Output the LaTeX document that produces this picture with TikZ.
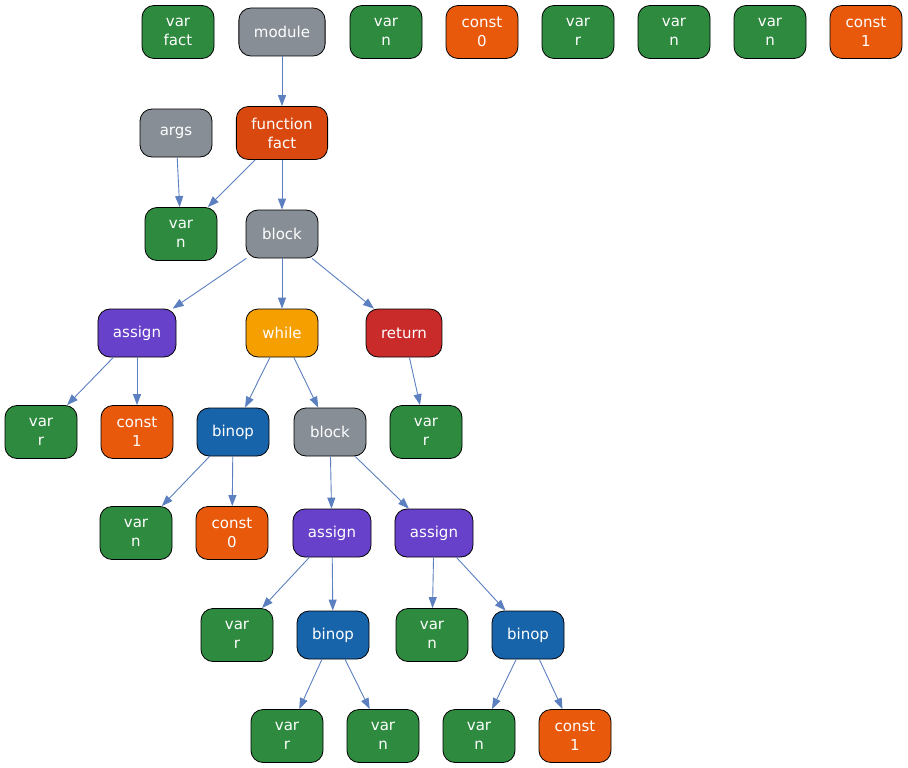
\documentclass[tikz,border=0pt]{standalone}
\usepackage{fontspec}
\setmainfont{DejaVu Sans}
\usetikzlibrary{arrows.meta}
\definecolor{cvar}{HTML}{2D8A3E}
\definecolor{cgrey}{HTML}{878E96}
\definecolor{cconst}{HTML}{E8590C}
\definecolor{cfunc}{HTML}{D9480F}
\definecolor{cassign}{HTML}{6741C9}
\definecolor{cwhile}{HTML}{F59F00}
\definecolor{cret}{HTML}{C92A2A}
\definecolor{cbinop}{HTML}{1864AB}
\definecolor{cedge}{HTML}{5B7FBF}
\tikzset{
  box/.style={draw=black, line width=0.8pt, rounded corners=12pt, text=white,
    font=\fontsize{15}{19}\selectfont, align=center, inner xsep=15pt, inner ysep=4pt,
    minimum width=72pt, minimum height=48pt},
  two/.style={box, minimum height=53pt},
  var/.style={two, fill=cvar},
  const/.style={two, fill=cconst},
  grey/.style={box, fill=cgrey},
  func/.style={two, fill=cfunc},
  assignbox/.style={box, fill=cassign},
  whilebox/.style={box, fill=cwhile},
  retbox/.style={box, fill=cret},
  binopbox/.style={box, fill=cbinop},
  edge/.style={draw=cedge, line width=0.9pt, -{Triangle[length=11pt,width=8pt]}},
}
\begin{document}
\begin{tikzpicture}[x=1pt,y=-1pt]
\useasboundingbox (0,0) rectangle (908,768);
% row 0
\node[var] (vfact) at (178,32) {var\\fact};
\node[grey] (module) at (282,32) {module};
\node[var] (t1) at (386,32) {var\\n};
\node[const] (t2) at (482,32) {const\\0};
\node[var] (t3) at (578,32) {var\\r};
\node[var] (t4) at (674,32) {var\\n};
\node[var] (t5) at (770,32) {var\\n};
\node[const] (t6) at (866,32) {const\\1};
% row 1
\node[grey] (args) at (176,133) {args};
\node[func] (func) at (282,133) {function\\fact};
% row 2
\node[var] (argn) at (181,234) {var\\n};
\node[grey] (block) at (282,234) {block};
% row 3
\node[assignbox] (as1) at (137,333) {assign};
\node[whilebox] (wh) at (282,333) {while};
\node[retbox] (ret) at (404,333) {return};
% row 4
\node[var] (as1v) at (41,432) {var\\r};
\node[const] (as1c) at (137,432) {const\\1};
\node[binopbox] (bin1) at (233,432) {binop};
\node[grey] (block2) at (330,432) {block};
\node[var] (retv) at (426,432) {var\\r};
% row 5
\node[var] (bin1v) at (136,533) {var\\n};
\node[const] (bin1c) at (232,533) {const\\0};
\node[assignbox] (as2) at (332,533) {assign};
\node[assignbox] (as3) at (434,533) {assign};
% row 6
\node[var] (as2v) at (237,635) {var\\r};
\node[binopbox] (bin2) at (333,635) {binop};
\node[var] (as3v) at (432,635) {var\\n};
\node[binopbox] (bin3) at (528,635) {binop};
% row 7
\node[var] (bin2a) at (287,736) {var\\r};
\node[var] (bin2b) at (383,736) {var\\n};
\node[var] (bin3a) at (479,736) {var\\n};
\node[const] (bin3b) at (575,736) {const\\1};
% edges
\draw[edge] (module) -- (func);
\draw[edge] (func) -- (argn);
\draw[edge] (args) -- (argn);
\draw[edge] (func) -- (block);
\draw[edge] (block) -- (as1);
\draw[edge] (block) -- (wh);
\draw[edge] (block) -- (ret);
\draw[edge] (as1) -- (as1v);
\draw[edge] (as1) -- (as1c);
\draw[edge] (wh) -- (bin1);
\draw[edge] (wh) -- (block2);
\draw[edge] (ret) -- (retv);
\draw[edge] (bin1) -- (bin1v);
\draw[edge] (bin1) -- (bin1c);
\draw[edge] (block2) -- (as2);
\draw[edge] (block2) -- (as3);
\draw[edge] (as2) -- (as2v);
\draw[edge] (as2) -- (bin2);
\draw[edge] (as3) -- (as3v);
\draw[edge] (as3) -- (bin3);
\draw[edge] (bin2) -- (bin2a);
\draw[edge] (bin2) -- (bin2b);
\draw[edge] (bin3) -- (bin3a);
\draw[edge] (bin3) -- (bin3b);
\end{tikzpicture}
\end{document}
